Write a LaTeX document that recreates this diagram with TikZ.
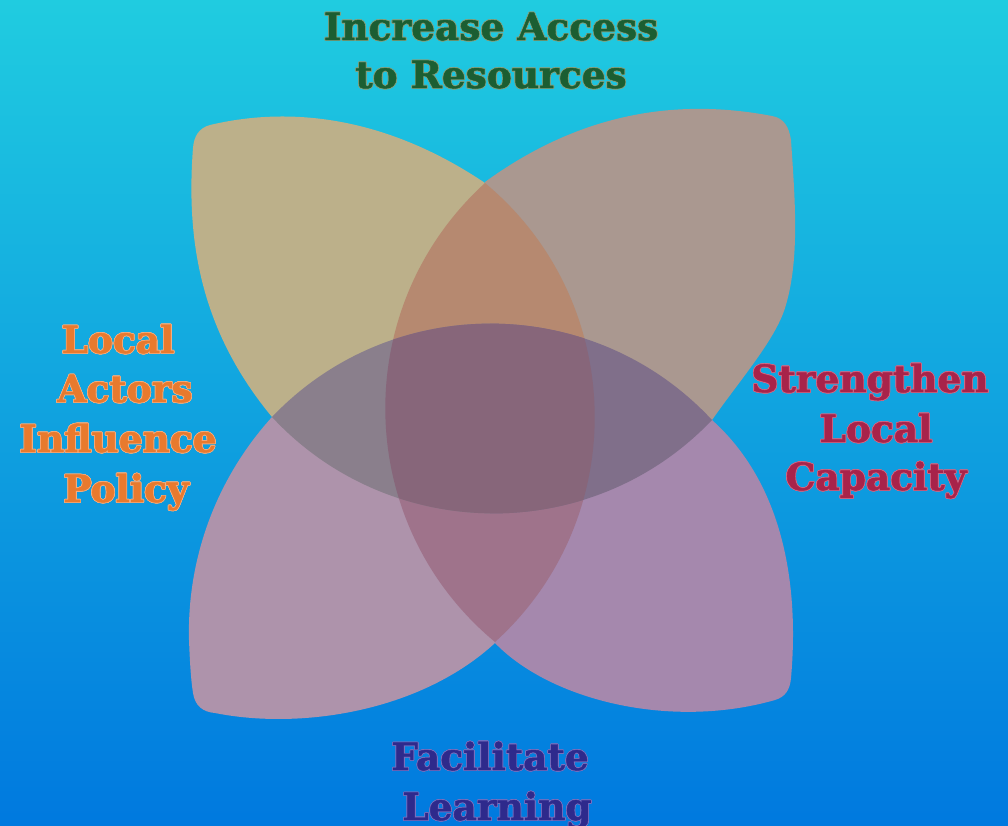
\documentclass[tikz,border=0pt]{standalone}
\usepackage{fontspec}
\setmainfont{DejaVu Serif}
\newfontfamily\lblfont{DejaVu Serif Bold}[FakeBold=1.2]
\usepackage{contour}
\contourlength{0.7pt}
\contournumber{16}
\definecolor{bgtop}{HTML}{20CCE0}
\definecolor{bgmid}{HTML}{17ACE4}
\definecolor{bgbot}{HTML}{0079DF}
\definecolor{ptl}{HTML}{BCB08A}
\definecolor{ptr}{HTML}{AA9890}
\definecolor{pbl}{HTML}{AE93AB}
\definecolor{pbr}{HTML}{A588AD}
\definecolor{vtop}{HTML}{B68970}
\definecolor{vbot}{HTML}{9F738B}
\definecolor{hleft}{HTML}{8A7F8C}
\definecolor{hright}{HTML}{806F8A}
\definecolor{ctr}{HTML}{87667A}
\definecolor{tgreen}{HTML}{1B5E32}
\definecolor{ogreen}{HTML}{80A282}
\definecolor{torange}{HTML}{E87A2E}
\definecolor{oorange}{HTML}{F5AE80}
\definecolor{tcrim}{HTML}{A8234A}
\definecolor{ocrim}{HTML}{CC6A88}
\definecolor{tind}{HTML}{2E2A8C}
\definecolor{oind}{HTML}{7A70C0}
\tikzset{
  lbl/.style={anchor=base, inner sep=0pt, font=\lblfont\fontsize{37.5}{44}\selectfont},
}
\begin{document}
\begin{tikzpicture}[x=1pt,y=-1pt]
\useasboundingbox (0,0) rectangle (1008,825);
\shade[top color=bgtop, middle color=bgmid, bottom color=bgbot] (0,0) rectangle (1008,825);
% petals
\fill[ptl] (485,183) .. controls (402,127) and (307,102) .. (210,125)
  .. controls (199,128) and (194,136) .. (193,148)
  .. controls (186,240) and (200,330) .. (272,417) -- (490,418) -- cycle;
\fill[ptr] (485,182) .. controls (573,118) and (668,96) .. (772,116)
  .. controls (784,118) and (789,127) .. (791,140)
  .. controls (795,200) and (800,260) .. (785,308)
  .. controls (775,340) and (740,380) .. (712,420) -- (490,418) -- cycle;
\fill[pbl] (272,417) .. controls (215,480) and (187,560) .. (189,640)
  .. controls (190,665) and (191,680) .. (193,693)
  .. controls (195,706) and (203,712) .. (215,713)
  .. controls (300,730) and (420,712) .. (495,643) -- (490,418) -- cycle;
\fill[pbr] (495,643) .. controls (550,700) and (670,730) .. (775,700)
  .. controls (785,697) and (790,690) .. (791,678)
  .. controls (798,600) and (790,490) .. (712,420) -- (490,418) -- cycle;
% vertical lens
\begin{scope}
  \clip (0,0) rectangle (1008,418);
  \fill[vtop] (485,183) .. controls (348,308) and (353,524) .. (495,642) .. controls (632,518) and (627,301) .. (485,183) -- cycle;
\end{scope}
\begin{scope}
  \clip (0,418) rectangle (1008,825);
  \fill[vbot] (485,183) .. controls (348,308) and (353,524) .. (495,642) .. controls (632,518) and (627,301) .. (485,183) -- cycle;
\end{scope}
% horizontal lens
\begin{scope}
  \clip (0,0) rectangle (490,825);
  \fill[hleft] (272,417) .. controls (392,291) and (594,293) .. (712,420) .. controls (592,546) and (390,544) .. (272,417) -- cycle;
\end{scope}
\begin{scope}
  \clip (490,0) rectangle (1008,825);
  \fill[hright] (272,417) .. controls (392,291) and (594,293) .. (712,420) .. controls (592,546) and (390,544) .. (272,417) -- cycle;
\end{scope}
% centre
\begin{scope}
  \clip (485,183) .. controls (348,308) and (353,524) .. (495,642) .. controls (632,518) and (627,301) .. (485,183) -- cycle;
  \fill[ctr] (272,417) .. controls (392,291) and (594,293) .. (712,420) .. controls (592,546) and (390,544) .. (272,417) -- cycle;
\end{scope}
% labels
\node[lbl, text=tgreen] (inc1) at (491,40) {\contour{ogreen}{Increase Access}};
\node[lbl, text=tgreen] (inc2) at (491,88) {\contour{ogreen}{to Resources}};
\node[lbl, text=torange] (loc1) at (118,353) {\contour{oorange}{Local}};
\node[lbl, text=torange] (loc2) at (125,402) {\contour{oorange}{Actors}};
\node[lbl, text=torange] (loc3) at (118,452) {\contour{oorange}{Influence}};
\node[lbl, text=torange] (loc4) at (126,502) {\contour{oorange}{Policy}};
\node[lbl, text=tcrim] (str1) at (870,392) {\contour{ocrim}{Strengthen}};
\node[lbl, text=tcrim] (str2) at (876,442) {\contour{ocrim}{Local}};
\node[lbl, text=tcrim] (str3) at (876,490) {\contour{ocrim}{Capacity}};
\node[lbl, text=tind] (fac1) at (490,770) {\contour{oind}{Facilitate}};
\node[lbl, text=tind] (fac2) at (497,820) {\contour{oind}{Learning}};
\end{tikzpicture}
\end{document}
